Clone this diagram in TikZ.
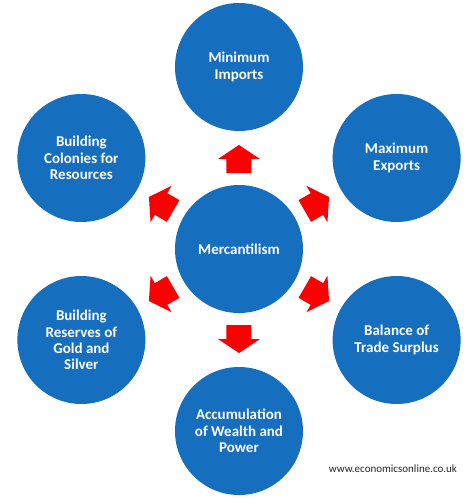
\documentclass[tikz,border=0pt]{standalone}
\usepackage{fontspec}
\setmainfont{Carlito}
\usetikzlibrary{calc}
\definecolor{circblue}{RGB}{22,110,190}
\definecolor{arrred}{RGB}{250,0,0}
\tikzset{
  bubble/.style={circle, fill=circblue, minimum size=128pt, inner sep=0pt,
    text=white, align=center, font=\fontsize{15}{16.3}\selectfont\bfseries},
  blockarrow/.style={fill=arrred}
}
\begin{document}
\begin{tikzpicture}[x=1pt, y=1pt]
  \useasboundingbox (-239,-249) rectangle (235,249);
  % Centre
  \node[bubble] (merc) at (0,0) {Mercantilism};

  % Ring of outcomes
  \node[bubble] (imp) at (90:182) {Minimum\\Imports};
  \node[bubble] (exp) at (30:182) {Maximum\\Exports};
  \node[bubble] (bal) at (-30:182) {Balance of\\Trade Surplus};
  \node[bubble] (acc) at (-90:182) {Accumulation\\of Wealth and\\Power};
  \node[bubble] (gold) at (-150:182) {Building\\Reserves of\\Gold and\\Silver};
  \node[bubble] (col) at (150:182) {Building\\Colonies for\\Resources};

  % Block arrows out of the centre
  \foreach \n/\a in {imp/90, exp/30, bal/-30, acc/-90, gold/-150, col/150} {
    \fill[blockarrow, shift={($(merc)!0.5!(\n)$)}, rotate=\a]
      (-15,-12.5) -- (-1,-12.5) -- (-1,-21) -- (13,0) -- (-1,21)
      -- (-1,12.5) -- (-15,12.5) -- cycle;
  }

  \node[font=\fontsize{11}{13}\selectfont, text=black!85] (web) at (154,-220) {www.economicsonline.co.uk};
\end{tikzpicture}
\end{document}
